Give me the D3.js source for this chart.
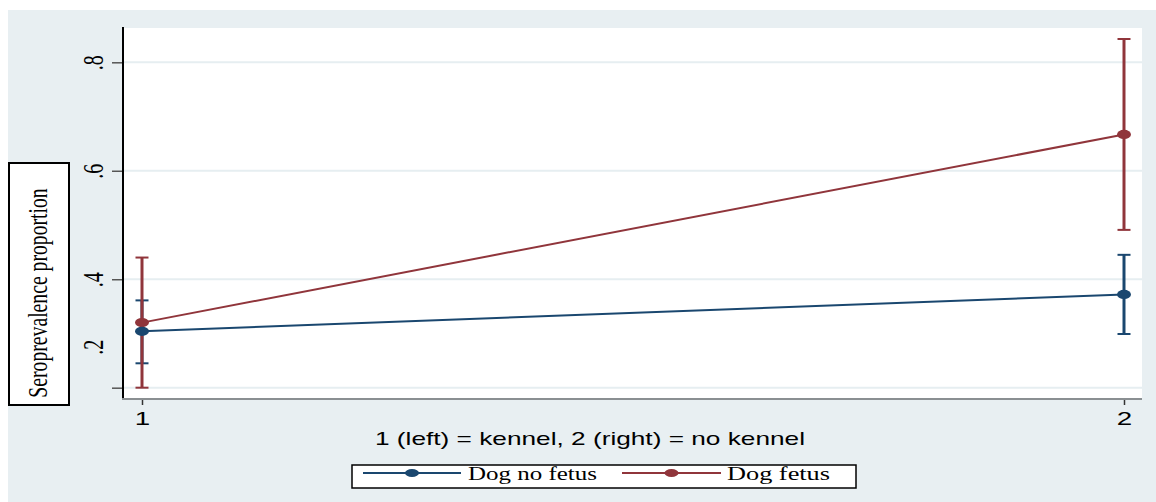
<!DOCTYPE html>
<html>
<head>
<meta charset="utf-8">
<script src="https://cdn.jsdelivr.net/npm/d3@7"></script>
<style>
  html, body { margin: 0; padding: 0; background: #ffffff; }
  svg { display: block; }
</style>
</head>
<body>
<svg id="chart" width="1156" height="502"></svg>
<script>
// Group codes on the x axis (1 = kennel, 2 = no kennel)
const groups = [1, 2];
const groupLabels = ["1", "2"];

// Seroprevalence estimates with 95% confidence limits
const noFetus   = [0.304, 0.372];
const noFetusLo = [0.245, 0.299];
const noFetusHi = [0.361, 0.445];

const fetus   = [0.320, 0.667];
const fetusLo = [0.200, 0.491];
const fetusHi = [0.440, 0.843];

// Y axis ticks
const yTicks = [0.2, 0.4, 0.6, 0.8];
const yTickLabels = [".2", ".4", ".6", ".8"];

const seriesNames = ["Dog no fetus", "Dog fetus"];
const seriesColors = ["#1a476f", "#90353b"];

const xTitle = "1 (left) = kennel, 2 (right) = no kennel";
const yTitle = "Seroprevalence proportion";

const svg = d3.select("#chart");
const W = 1156, H = 502;

// Layout
const plot = { left: 123, right: 1142, top: 28, bottom: 399 };
const sans = "'Liberation Sans', Arial, sans-serif";
const serif = "'Liberation Serif', 'Times New Roman', serif";
const stretch = 1.5;   // horizontal widening of glyphs

const x = d3.scaleLinear().domain([1, 2]).range([142, 1124]);
const y = d3.scaleLinear().domain([0.2, 0.8]).range([387.7, 62.3]);

// Graph region
svg.append("rect").attr("x", 8).attr("y", 10).attr("width", W - 8).attr("height", H - 10)
  .attr("fill", "#e8eff2");

// Plot region
svg.append("rect")
  .attr("x", plot.left).attr("y", plot.top)
  .attr("width", plot.right - plot.left).attr("height", plot.bottom - plot.top)
  .attr("fill", "#ffffff");

// Gridlines
svg.append("g").selectAll("line").data(yTicks).join("line")
  .attr("x1", plot.left).attr("x2", plot.right)
  .attr("y1", d => y(d)).attr("y2", d => y(d))
  .attr("stroke", "#e6eef1").attr("stroke-width", 2);

// Y axis
const yAxis = svg.append("g").attr("transform", `translate(${plot.left},0)`)
  .call(d3.axisLeft(y).tickValues(yTicks)
    .tickFormat((d, i) => yTickLabels[i]).tickSize(11).tickPadding(0));
yAxis.select(".domain").remove();
yAxis.selectAll(".tick line").attr("stroke", "#555").attr("stroke-width", 1.5);
yAxis.selectAll(".tick text").remove();
// rotated tick labels; the lowest one sits above its tick
yAxis.selectAll(".tick").append("text")
  .attr("transform", (d, i) => {
    const off = i === 0 ? -41 : 0;
    return `translate(-20,${off}) scale(${stretch},1) rotate(-90)`;
  })
  .attr("text-anchor", "middle")
  .attr("fill", "#000")
  .style("font-family", serif)
  .style("font-size", "20px")
  .text((d, i) => yTickLabels[i]);

svg.append("line")
  .attr("x1", plot.left).attr("x2", plot.left)
  .attr("y1", plot.top - 1).attr("y2", plot.bottom + 1)
  .attr("stroke", "#000").attr("stroke-width", 2);

// X axis
const xAxis = svg.append("g").attr("transform", `translate(0,${plot.bottom})`)
  .call(d3.axisBottom(x).tickValues(groups)
    .tickFormat((d, i) => groupLabels[i]).tickSize(6).tickPadding(0));
xAxis.select(".domain").remove();
xAxis.selectAll(".tick line").attr("stroke", "#333").attr("stroke-width", 1.5);
xAxis.selectAll(".tick text").remove();
xAxis.selectAll(".tick").append("text")
  .attr("transform", `translate(0,26) scale(${stretch},1)`)
  .attr("text-anchor", "middle")
  .attr("fill", "#000")
  .style("font-family", sans)
  .style("font-size", "18.5px")
  .text((d, i) => groupLabels[i]);

svg.append("line")
  .attr("x1", plot.left - 1).attr("x2", plot.right)
  .attr("y1", plot.bottom).attr("y2", plot.bottom)
  .attr("stroke", "#8a8f92").attr("stroke-width", 2);

// Y title box
svg.append("rect").attr("x", 9).attr("y", 163).attr("width", 60).attr("height", 242)
  .attr("fill", "#fff").attr("stroke", "#000").attr("stroke-width", 2);
svg.append("text")
  .attr("transform", `translate(47,293) scale(1.36,1) rotate(-90)`)
  .attr("text-anchor", "middle")
  .style("font-family", serif).style("font-size", "19.7px")
  .attr("fill", "#000")
  .text(yTitle);

// X title
svg.append("text")
  .attr("x", 375).attr("y", 445)
  .attr("textLength", 430).attr("lengthAdjust", "spacingAndGlyphs")
  .style("font-family", sans).style("font-size", "17.8px")
  .attr("fill", "#000")
  .text(xTitle);

// Series
const series = [
  { name: seriesNames[0], color: seriesColors[0], est: noFetus, lo: noFetusLo, hi: noFetusHi },
  { name: seriesNames[1], color: seriesColors[1], est: fetus, lo: fetusLo, hi: fetusHi }
];

const capHalf = 6.5;

// Confidence intervals
series.forEach(s => {
  const g = svg.append("g");
  groups.forEach((gx, i) => {
    g.append("line")
      .attr("x1", x(gx)).attr("x2", x(gx))
      .attr("y1", y(s.lo[i])).attr("y2", y(s.hi[i]))
      .attr("stroke", s.color).attr("stroke-width", 3);
    [s.lo[i], s.hi[i]].forEach(v => {
      g.append("line")
        .attr("x1", x(gx) - capHalf).attr("x2", x(gx) + capHalf)
        .attr("y1", y(v)).attr("y2", y(v))
        .attr("stroke", s.color).attr("stroke-width", 2);
    });
  });
});

// Connecting lines
const line = d3.line().x((d, i) => x(groups[i])).y(d => y(d));
series.forEach(s => {
  svg.append("path").datum(s.est)
    .attr("d", line)
    .attr("fill", "none").attr("stroke", s.color).attr("stroke-width", 2);
});

// Markers (drawn fetus first so the no-fetus marker sits on top)
[series[1], series[0]].forEach(s => {
  svg.append("g").selectAll("ellipse").data(s.est).join("ellipse")
    .attr("cx", (d, i) => x(groups[i])).attr("cy", d => y(d))
    .attr("rx", 7).attr("ry", 4.6)
    .attr("fill", s.color);
});

// Legend
const legend = svg.append("g");
legend.append("rect").attr("x", 352).attr("y", 465).attr("width", 504).attr("height", 23)
  .attr("fill", "#fff").attr("stroke", "#000").attr("stroke-width", 1.5);
const legendItems = [
  { x0: 363, x1: 461, tx: 468, tw: 129 },
  { x0: 622, x1: 721, tx: 727, tw: 103 }
];
series.forEach((s, i) => {
  const it = legendItems[i];
  legend.append("line")
    .attr("x1", it.x0).attr("x2", it.x1).attr("y1", 473).attr("y2", 473)
    .attr("stroke", s.color).attr("stroke-width", 2);
  legend.append("ellipse")
    .attr("cx", (it.x0 + it.x1) / 2).attr("cy", 473)
    .attr("rx", 7).attr("ry", 4)
    .attr("fill", s.color);
  legend.append("text")
    .attr("x", it.tx).attr("y", 479.5)
    .attr("textLength", it.tw).attr("lengthAdjust", "spacingAndGlyphs")
    .style("font-family", serif).style("font-size", "19px")
    .attr("fill", "#000")
    .text(s.name);
});
</script>
</body>
</html>
